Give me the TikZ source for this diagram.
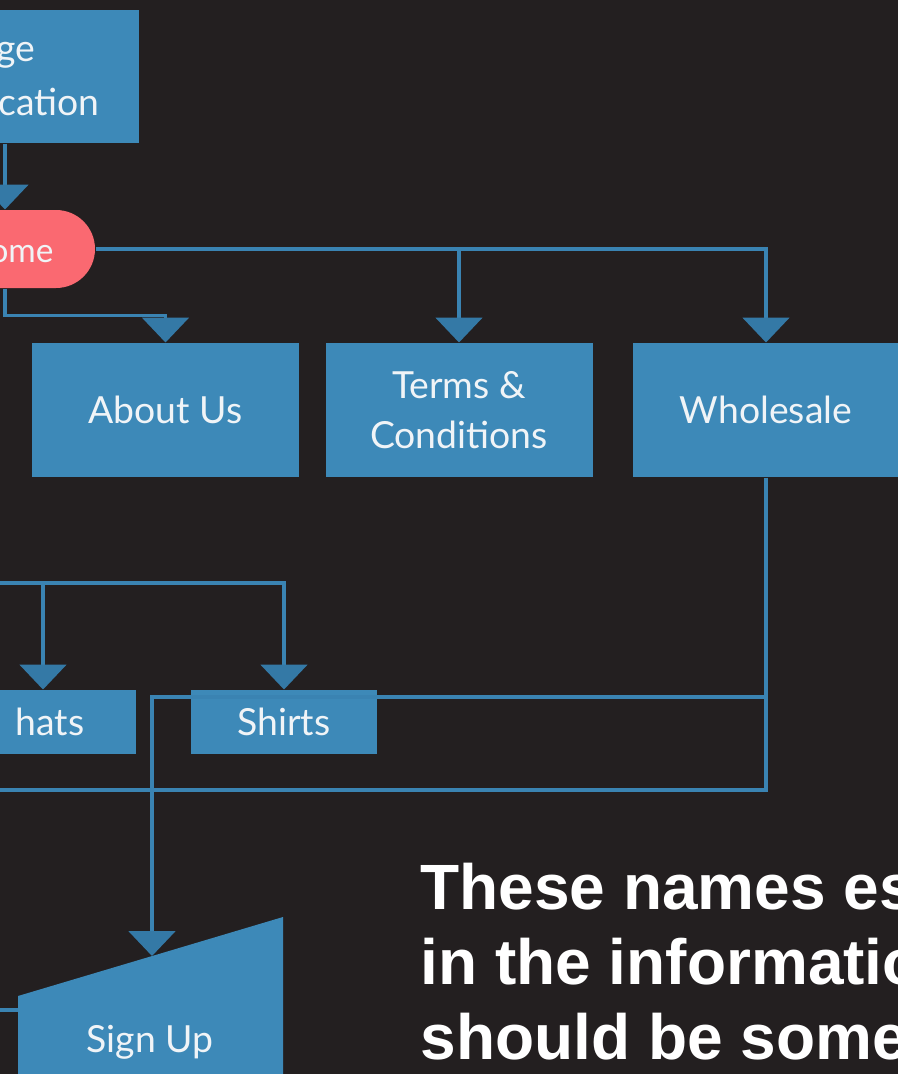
\documentclass[tikz,border=0pt]{standalone}
\usepackage{fontspec}
\setmainfont{Lato}
\newfontfamily\notefont{Liberation Sans}
\usetikzlibrary{arrows.meta,positioning}

\definecolor{bgdark}{RGB}{35,31,32}
\definecolor{boxblue}{RGB}{61,137,184}
\definecolor{lineblue}{RGB}{58,131,178}
\definecolor{tipblue}{RGB}{52,121,166}
\definecolor{homered}{RGB}{250,105,113}
\definecolor{labelwhite}{RGB}{240,244,247}

\tikzset{every picture/.style={line width=0.75pt}}
\tikzset{
	pagebox/.style={fill=boxblue, draw=none, minimum width=200.25pt, minimum height=100.5pt, inner sep=0pt, text=labelwhite, font=\fontsize{28}{37.5}\selectfont, align=center},
	smallbox/.style={pagebox, minimum width=139.5pt, minimum height=48pt},
	boxtext/.style={text=labelwhite, font=\fontsize{28}{37.5}\selectfont, inner sep=0pt},
	link/.style={draw=lineblue, line width=2.6pt},
	flow/.style={link, -{Triangle[width=35pt,length=18.75pt,color=tipblue]}},
}

\begin{document}
\begin{tikzpicture}[x=0.75pt,y=0.75pt,yscale=-1,xscale=1]
	%Shape: Background
	\fill[bgdark] (0,0) rectangle (898,1074);
	\clip (0,0) rectangle (898,1074);

	%Shape: Rectangle [cut by the frame]
	\node[pagebox, minimum width=217.5pt, minimum height=99.75pt] (entry) at (-6,76.5) {};
	% Text Node
	\node[boxtext, anchor=base east] (entrytop) at (36,62) {ge};
	% Text Node
	\node[boxtext, anchor=base east] (entrybottom) at (100,115) {cation};

	%Shape: Rounded Rectangle [cut by the frame]
	\node[fill=homered, rounded corners=29.25pt, minimum width=202.5pt, minimum height=58.5pt, inner sep=0pt] (home) at (-40,249) {};
	% Text Node
	\node[boxtext, anchor=base east, font=\fontsize{25}{30}\selectfont] (homelabel) at (54,262) {ome};

	%Shape: Rectangle
	\node[pagebox] (about) at (165.5,410) {About Us};
	%Shape: Rectangle
	\node[pagebox] (terms) at (459,410) {Terms \&\\Conditions};
	%Shape: Rectangle
	\node[pagebox] (wholesale) at (766,410) {Wholesale};

	%Shape: Rectangle [cut by the frame]
	\node[smallbox] (hats) at (43,722) {};
	% Text Node
	\node[boxtext, anchor=base east] (hatslabel) at (85,735) {hats};
	%Shape: Rectangle
	\node[smallbox] (shirts) at (284,722) {Shirts};

	%Shape: Manual Input
	\fill[boxblue] (18,996) -- (283,917) -- (283,1090) -- (18,1090) -- cycle;
	% Text Node
	\node[boxtext, anchor=base] (signup) at (150,1052) {Sign Up};

	%Connection points
	\coordinate (trunk) at (5,0);
	\coordinate (feed) at (0,583);
	\coordinate (loopback) at (0,790);
	\coordinate (branch) at (766,697);
	\coordinate (signtip) at (152,956);
	\coordinate (signfeed) at (0,1010);
	\coordinate (signedge) at (18,1010);

	%Connectors
	\draw[flow] (entry.south -| trunk) -- (home.north -| trunk);
	\draw[flow] (home.south -| trunk) -- ++(0,27) -| (about.north);
	\draw[flow] (home.east) -| (wholesale.north);
	\draw[flow] (home.east -| terms.north) -- (terms.north);
	\draw[flow] (feed) -| (shirts.north);
	\draw[flow] (feed -| hats.north) -- (hats.north);
	\draw[link] (wholesale.south) |- (loopback);
	\draw[flow] (branch) -| (signtip);
	\draw[link] (signfeed) -- (signedge);

	% Text Node
	\node[anchor=north west, inner sep=0pt, align=left, text=white, font=\notefont\bfseries\fontsize{48}{56}\selectfont] (note) at (420,863) {These names es\\in the informatio\\should be some};
\end{tikzpicture}
\end{document}
